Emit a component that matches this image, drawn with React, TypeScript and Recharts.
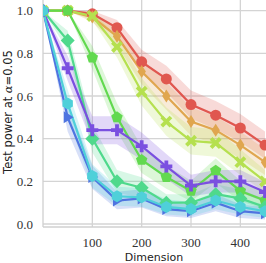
import React from 'react';
import { ComposedChart, Line, Area, XAxis, YAxis, CartesianGrid } from 'recharts';

// dimensions tested (x axis)
const dims = [0, 50, 100, 150, 200, 250, 300, 350, 400, 450];

// test power, one list per method
const redPower = [1.0, 1.0, 0.985, 0.92, 0.76, 0.68, 0.56, 0.51, 0.45, 0.37];
const orangePower = [1.0, 1.0, 0.97, 0.88, 0.715, 0.6, 0.48, 0.44, 0.37, 0.29];
const limePower = [1.0, 1.0, 0.975, 0.83, 0.62, 0.48, 0.39, 0.38, 0.29, 0.2];
const greenPower = [1.0, 1.0, 0.78, 0.5, 0.3, 0.22, 0.155, 0.25, 0.155, 0.11];
const tealPower = [1.0, 0.86, 0.4, 0.2, 0.17, 0.1, 0.1, 0.14, 0.12, 0.08];
const bluePower = [1.0, 0.5, 0.22, 0.11, 0.12, 0.07, 0.06, 0.1, 0.06, 0.05];
const purplePower = [1.0, 0.73, 0.44, 0.44, 0.365, 0.27, 0.18, 0.2, 0.2, 0.15];
const cyanPower = [1.0, 0.565, 0.225, 0.13, 0.125, 0.08, 0.07, 0.11, 0.08, 0.06];

const xTicks = [100, 200, 300, 400];
const yTicks = [0, 0.2, 0.4, 0.6, 0.8, 1.0];

// number of repetitions behind each estimate (for the shaded band)
const nTrials = 220;

const series = [
  { key: 'red', values: redPower, color: '#e0574f', shape: 'circle' },
  { key: 'orange', values: orangePower, color: '#e0a64f', shape: 'thin_diamond' },
  { key: 'lime', values: limePower, color: '#b5e04f', shape: 'x' },
  { key: 'green', values: greenPower, color: '#62d94f', shape: 'pentagon' },
  { key: 'teal', values: tealPower, color: '#4fd98c', shape: 'diamond' },
  { key: 'blue', values: bluePower, color: '#4f74e0', shape: 'tri_right' },
  { key: 'purple', values: purplePower, color: '#7a4fe0', shape: 'plus' },
  { key: 'cyan', values: cyanPower, color: '#4fd0d9', shape: 'hexagon' },
];

const data = dims.map((d, i) => {
  const row: any = { dim: d };
  series.forEach((s) => {
    const p = s.values[i];
    const hw = 1.96 * Math.sqrt((p * (1 - p)) / nTrials);
    row[s.key] = p;
    row[s.key + '_band'] = [Math.max(0, p - hw), Math.min(1, p + hw)];
  });
  return row;
});

function polygon(n: number, r: number, rot: number) {
  const pts = [];
  for (let k = 0; k < n; k++) {
    const a = rot + (k * 2 * Math.PI) / n;
    pts.push(`${(r * Math.cos(a)).toFixed(2)},${(r * Math.sin(a)).toFixed(2)}`);
  }
  return pts.join(' ');
}

function makeDot(shape: string, color: string) {
  return (props: any) => {
    const { cx, cy, index } = props;
    if (cx == null || cy == null) return <g key={index} />;
    let el: React.ReactNode = null;
    switch (shape) {
      case 'circle':
        el = <circle r={5.5} />;
        break;
      case 'thin_diamond':
        el = <path d="M0,-6.5 L4.2,0 L0,6.5 L-4.2,0 Z" />;
        break;
      case 'diamond':
        el = <path d="M0,-7 L7,0 L0,7 L-7,0 Z" />;
        break;
      case 'pentagon':
        el = <polygon points={polygon(5, 6, -Math.PI / 2)} />;
        break;
      case 'hexagon':
        el = <polygon points={polygon(6, 6, -Math.PI / 2)} />;
        break;
      case 'tri_right':
        el = <path d="M6,0 L-4,-6 L-4,6 Z" />;
        break;
      case 'plus':
        el = <path d="M-1.9,-6 H1.9 V-1.9 H6 V1.9 H1.9 V6 H-1.9 V1.9 H-6 V-1.9 H-1.9 Z" />;
        break;
      case 'x':
        el = (
          <path
            transform="rotate(45)"
            d="M-1.9,-6.5 H1.9 V-1.9 H6.5 V1.9 H1.9 V6.5 H-1.9 V1.9 H-6.5 V-1.9 H-1.9 Z"
          />
        );
        break;
    }
    return (
      <g key={index} transform={`translate(${cx},${cy})`} fill={color} stroke="none">
        {el}
      </g>
    );
  };
}

const YTitle = () => (
  <text
    x={12}
    y={112}
    transform="rotate(-90, 12, 112)"
    textAnchor="middle"
    fontFamily="DejaVu Sans"
    fontSize={11.5}
    fill="#222"
  >
    Test power at <tspan fontFamily="DejaVu Serif" fontStyle="italic">α</tspan>=0.05
  </text>
);

const XTitle = () => (
  <text x={154} y={261} textAnchor="middle" fontFamily="DejaVu Sans" fontSize={11} fill="#222">
    Dimension
  </text>
);

const tickStyle = { fill: '#333', fontFamily: 'Liberation Serif', fontSize: 13 };

export default function App() {
  return (
    <div style={{ width: 266, height: 263 }}>
      <style>{`body{margin:0}`}</style>
      <ComposedChart width={266} height={263} data={data} margin={{ top: 0, right: 0, left: 0, bottom: 0 }}>
        <CartesianGrid stroke="#d4d4d4" strokeWidth={1.3} horizontalValues={yTicks} verticalValues={xTicks} />
        <XAxis
          dataKey="dim"
          type="number"
          domain={[0, 452]}
          ticks={xTicks}
          allowDataOverflow
          height={36}
          stroke="#d0d0d0"
          strokeWidth={1.3}
          tickSize={0}
          tickMargin={11}
          tick={tickStyle}
          label={XTitle}
        />
        <YAxis
          type="number"
          domain={[-0.014, 1.05]}
          ticks={yTicks}
          allowDataOverflow
          width={43}
          stroke="#d0d0d0"
          strokeWidth={1.3}
          tickSize={0}
          tickMargin={10}
          tickFormatter={(v: number) => v.toFixed(1)}
          tick={tickStyle}
          label={YTitle}
        />
        {series.map((s) => (
          <Area
            key={s.key + '_band'}
            dataKey={s.key + '_band'}
            stroke="none"
            fill={s.color}
            fillOpacity={0.22}
            isAnimationActive={false}
            activeDot={false}
          />
        ))}
        {series.map((s) => (
          <Line
            key={s.key}
            dataKey={s.key}
            stroke={s.color}
            strokeWidth={2.2}
            dot={makeDot(s.shape, s.color)}
            activeDot={false}
            isAnimationActive={false}
          />
        ))}
      </ComposedChart>
    </div>
  );
}
